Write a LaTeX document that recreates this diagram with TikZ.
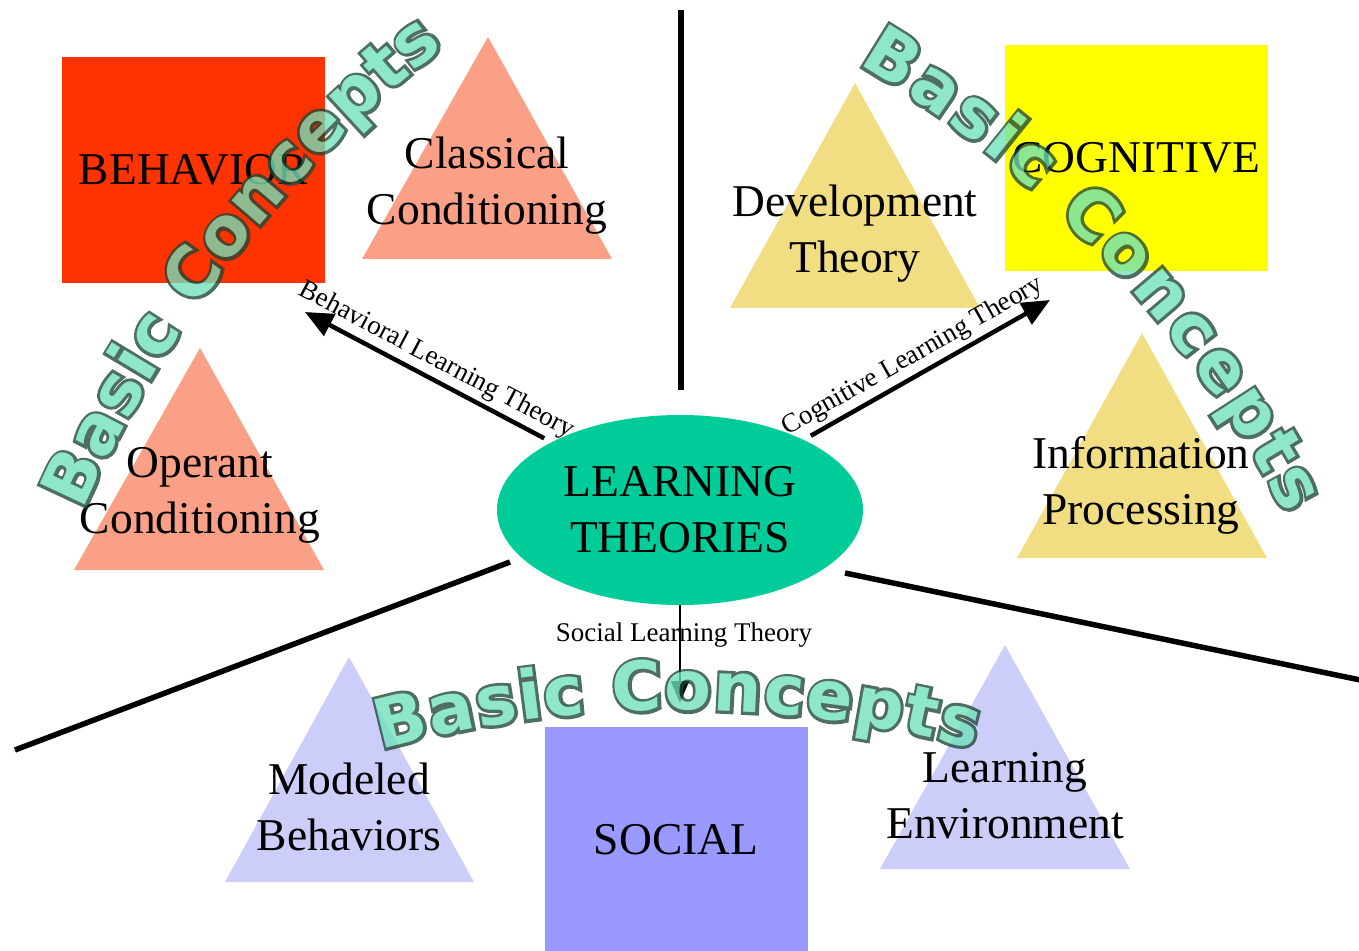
\documentclass[tikz,border=0pt]{standalone}
\usepackage{fontspec}
\setmainfont{Liberation Serif}
\newfontfamily\wafont{DejaVu Sans Bold}
\newfontfamily\waoutfont{DejaVu Sans Bold}[FakeBold=9]
\usetikzlibrary{arrows.meta,decorations.text,shapes.geometric}
\definecolor{behred}{RGB}{255,51,0}
\definecolor{cogyel}{RGB}{255,255,0}
\definecolor{socblue}{RGB}{153,153,255}
\definecolor{ltgreen}{RGB}{0,204,153}
\definecolor{salmon}{RGB}{250,160,135}
\definecolor{paleyel}{RGB}{242,222,130}
\definecolor{lav}{RGB}{205,205,250}
\definecolor{wagreen}{RGB}{110,225,185}
\definecolor{wadark}{RGB}{30,70,55}
\newcommand\bigtxt{\fontsize{22.75}{28}\selectfont}
\newcommand\smalltxt{\fontsize{13.5}{16}\selectfont}
\newcommand\waout{\fontsize{34}{36}\waoutfont\color{wadark}}
\newcommand\wafill{\fontsize{34}{36}\wafont\color{wagreen}}
\newcommand\basicconcepts[5]{%
  \begin{scope}[transparency group, opacity=0.78]
    \path[decorate, decoration={text along path, text align={fit to path},
      text={|\waout|Basic Concepts}}]
      (#1,#2) ++(#4:#3) arc[start angle=#4, end angle=#5, radius=#3];
    \path[decorate, decoration={text along path, text align={fit to path},
      text={|\wafill|Basic Concepts}}]
      (#1,#2) ++(#4:#3) arc[start angle=#4, end angle=#5, radius=#3];
  \end{scope}}
\begin{document}
\begin{tikzpicture}[x=0.5pt,y=-0.5pt,
  sqbox/.style={rectangle, inner sep=0pt, minimum width=131.5pt, minimum height=113pt, font=\bigtxt},
  tritext/.style={align=center, font=\bigtxt, inner sep=0pt},
  sepline/.style={line width=2.75pt},
  arr/.style={line width=2.25pt, -{Triangle[length=14pt,width=12pt]}},
  sarr/.style={line width=1pt, -{Triangle[length=11pt,width=9pt]}},
  lab/.style={font=\smalltxt, inner sep=2pt}]
\useasboundingbox (0,0) rectangle (1359,951);
\fill[white] (0,0) rectangle (1359,951);
% separator lines
\coordinate (v1) at (681,10);
\coordinate (v2) at (681,390);
\coordinate (l1) at (510,562);
\coordinate (l2) at (15,750);
\coordinate (r1) at (845,573);
\coordinate (r2) at (1365,681);
\draw[sepline] (v1) -- (v2);
\draw[sepline] (l1) -- (l2);
\draw[sepline] (r1) -- (r2);
% triangles
\fill[salmon] (488,37) -- (362,259) -- (612,259) -- cycle;
\fill[salmon] (200,348) -- (74,570) -- (324,570) -- cycle;
\fill[paleyel] (855,83) -- (730,308) -- (980,308) -- cycle;
\fill[paleyel] (1142,333) -- (1017,558) -- (1267,558) -- cycle;
\fill[lav] (349,657) -- (225,882) -- (474,882) -- cycle;
\fill[lav] (1005,645) -- (880,869) -- (1130,869) -- cycle;
% boxes
\node[sqbox, fill=behred] (beh) at (193.5,170) {BEHAVIOR};
\node[sqbox, fill=cogyel] (cog) at (1136,158) {COGNITIVE};
\node[sqbox, fill=socblue] (soc) at (676,840) {SOCIAL};
% triangle texts
\node[tritext] (cc) at (487,186) {Classical\\Conditioning};
\node[tritext] (oc) at (200,495) {Operant\\Conditioning};
\node[tritext] (dt) at (855,234) {Development\\Theory};
\node[tritext] (ip) at (1141,485) {Information\\Processing};
\node[tritext] (mb) at (349,807) {Modeled\\Behaviors};
\node[tritext] (le) at (1005,796) {Learning\\Environment};
% centre
\node[ellipse, fill=ltgreen, minimum width=183pt, minimum height=95pt, inner sep=0pt,
  align=center, font=\bigtxt] (L) at (680,510) {LEARNING\\THEORIES};
% arrows
\coordinate (bt) at (305,312);
\coordinate (ct) at (1050,300);
\coordinate (st) at (680,703);
\draw[arr, shorten <=4pt] (L) -- (bt)
  node[lab, sloped, above, pos=0.5] {Behavioral Learning Theory};
\draw[arr, shorten <=4pt] (L) -- (ct)
  node[lab, sloped, above, pos=0.48] {Cognitive Learning Theory};
\draw[sarr] (L) -- (st)
  node[lab, pos=0.3, xshift=2pt] {Social Learning Theory};
% word art
\basicconcepts{1187.5}{998}{1207}{203.8}{232.0}
\basicconcepts{285.5}{1036}{1128}{300.5}{332.5}
\basicconcepts{678.5}{1852}{1142}{254.9}{285}
\end{tikzpicture}
\end{document}
